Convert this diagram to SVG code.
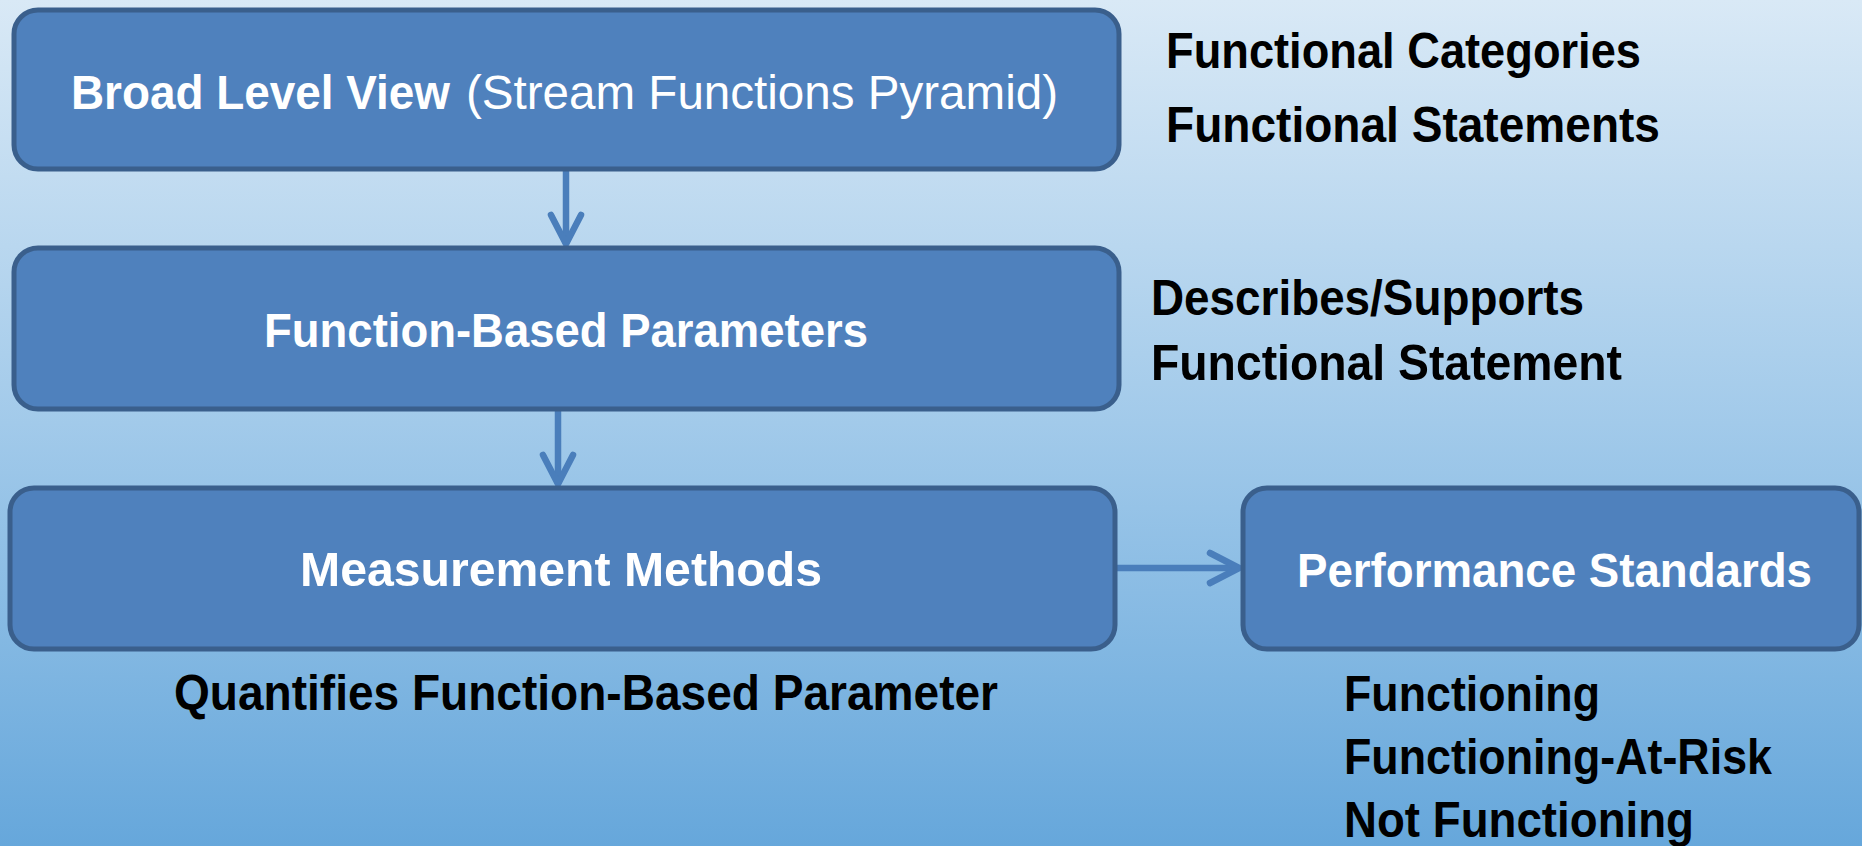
<svg xmlns="http://www.w3.org/2000/svg" width="1862" height="846" viewBox="0 0 1862 846">
<style>
.box{fill:#4f81bd;stroke:#3a5f8c;stroke-width:5}
.wt{fill:#ffffff;font-family:"Liberation Sans",Arial,sans-serif;font-weight:bold;font-size:48px}
.wr{fill:#ffffff;font-family:"Liberation Sans",Arial,sans-serif;font-weight:normal;font-size:48px}
.bt{fill:#000000;font-family:"Liberation Sans",Arial,sans-serif;font-weight:bold;font-size:50px}
.conn{fill:none;stroke:#4a7ebb;stroke-width:6.5}
</style>
<defs>
<linearGradient id="bg" x1="0" y1="0" x2="0" y2="1">
<stop offset="0" stop-color="#d9e9f6"/>
<stop offset="0.5" stop-color="#a2caea"/>
<stop offset="1" stop-color="#66a7db"/>
</linearGradient>
<marker id="chev" markerUnits="userSpaceOnUse" markerWidth="60" markerHeight="60" viewBox="-45 -30 60 60" refX="0" refY="0" orient="auto" overflow="visible">
<path d="M-29,-15 L0,0 L-29,15" fill="none" stroke="#4a7ebb" stroke-width="6.5" stroke-linecap="round" stroke-linejoin="round"/>
</marker>
</defs>
<rect x="0" y="0" width="1862" height="846" fill="url(#bg)"/>

<g id="connectors">
<line class="conn" x1="566" y1="171" x2="566" y2="244" marker-end="url(#chev)"/>
<line class="conn" x1="558" y1="411" x2="558" y2="484" marker-end="url(#chev)"/>
<line class="conn" x1="1117" y1="568" x2="1239" y2="568" marker-end="url(#chev)"/>
</g>

<g id="node-broad">
<rect class="box" x="14" y="10" width="1105" height="159" rx="24" ry="24"/>
<text class="wt" x="71" y="109" textLength="379" lengthAdjust="spacingAndGlyphs">Broad Level View</text>
<text class="wr" x="466" y="109" textLength="592" lengthAdjust="spacingAndGlyphs">(Stream Functions Pyramid)</text>
</g>

<g id="node-params">
<rect class="box" x="14" y="248" width="1105" height="161" rx="24" ry="24"/>
<text class="wt" x="264" y="347" textLength="604" lengthAdjust="spacingAndGlyphs">Function-Based Parameters</text>
</g>

<g id="node-methods">
<rect class="box" x="10" y="488" width="1105" height="161" rx="24" ry="24"/>
<text class="wt" x="300" y="586" textLength="522" lengthAdjust="spacingAndGlyphs">Measurement Methods</text>
</g>

<g id="node-standards">
<rect class="box" x="1243" y="488" width="616" height="161" rx="24" ry="24"/>
<text class="wt" x="1297" y="587" textLength="515" lengthAdjust="spacingAndGlyphs">Performance Standards</text>
</g>

<g id="labels">
<text class="bt" x="1166" y="68" textLength="475" lengthAdjust="spacingAndGlyphs">Functional Categories</text>
<text class="bt" x="1166" y="142" textLength="494" lengthAdjust="spacingAndGlyphs">Functional Statements</text>
<text class="bt" x="1151" y="315" textLength="433" lengthAdjust="spacingAndGlyphs">Describes/Supports</text>
<text class="bt" x="1151" y="380" textLength="471" lengthAdjust="spacingAndGlyphs">Functional Statement</text>
<text class="bt" x="174" y="710" textLength="824" lengthAdjust="spacingAndGlyphs">Quantifies Function-Based Parameter</text>
<text class="bt" x="1344" y="711" textLength="256" lengthAdjust="spacingAndGlyphs">Functioning</text>
<text class="bt" x="1344" y="774" textLength="428" lengthAdjust="spacingAndGlyphs">Functioning-At-Risk</text>
<text class="bt" x="1344" y="837" textLength="350" lengthAdjust="spacingAndGlyphs">Not Functioning</text>
</g>
</svg>
